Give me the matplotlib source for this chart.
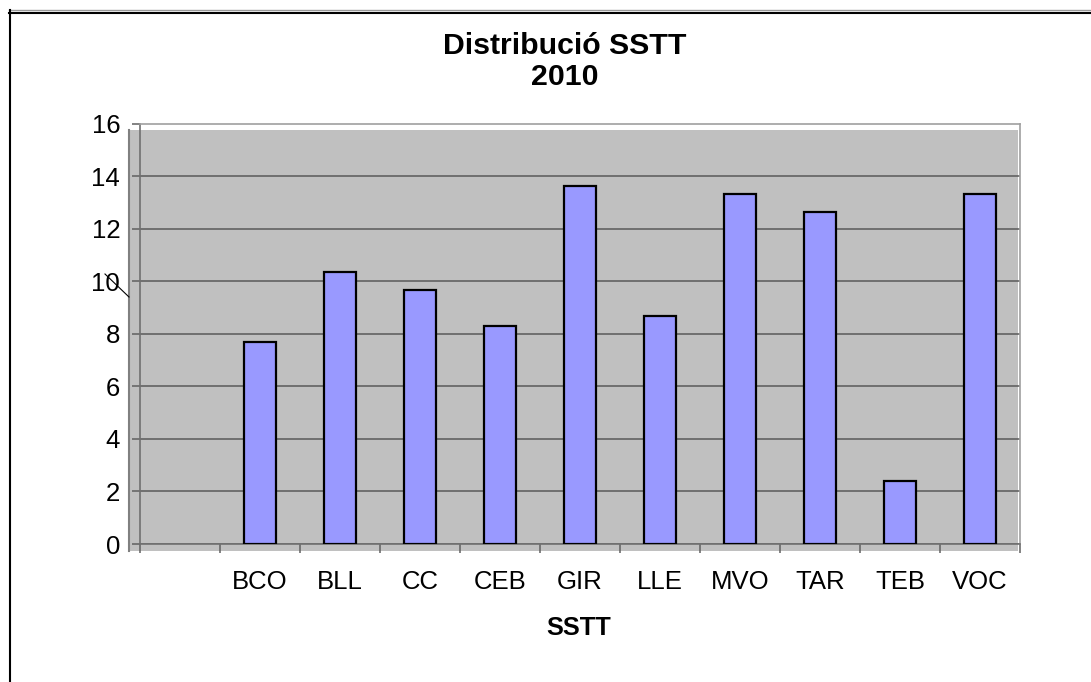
import matplotlib
matplotlib.use("Agg")
import matplotlib.pyplot as plt
import numpy as np
from matplotlib.patches import Rectangle
from matplotlib.lines import Line2D

# ---- data ----
categories = ["", "BCO", "BLL", "CC", "CEB", "GIR", "LLE", "MVO", "TAR", "TEB", "VOC"]
values = [np.nan, 7.70, 10.36, 9.67, 8.31, 13.62, 8.69, 13.32, 12.64, 2.38, 13.32]
y_ticks = [0, 2, 4, 6, 8, 10, 12, 14, 16]
title = "Distribució SSTT\n2010"
x_label = "SSTT"

W, H = 1091, 682
plt.rcParams['font.family'] = ['Liberation Sans', 'DejaVu Sans']

fig = plt.figure(figsize=(W / 100, H / 100), dpi=100)
fig.patch.set_facecolor("white")

def fx(x):
    return x / W

def fy(y):
    return 1 - y / H

# gray plot-area background (slightly offset, as in the reference)
fig.patches.append(Rectangle((fx(128), fy(551)), fx(1018) - fx(128), fy(130) - fy(551),
                             transform=fig.transFigure, facecolor="#C0C0C0",
                             edgecolor="none", zorder=-2))
fig.lines.append(Line2D([fx(129), fx(129)], [fy(130), fy(551)], transform=fig.transFigure,
                        color="#808080", lw=1.5, zorder=-1))

# figure frame lines
fig.lines.append(Line2D([fx(9), fx(1091)], [fy(10), fy(10)], transform=fig.transFigure,
                        color="#999999", lw=1.0))
fig.lines.append(Line2D([fx(9), fx(1091)], [fy(13), fy(13)], transform=fig.transFigure,
                        color="black", lw=1.5))
fig.lines.append(Line2D([fx(9.5), fx(9.5)], [fy(10), fy(682)], transform=fig.transFigure,
                        color="black", lw=1.5))
# small stray stroke near the "10" label
fig.lines.append(Line2D([fx(105), fx(129)], [fy(274), fy(297)], transform=fig.transFigure,
                        color="black", lw=0.8))

ax = fig.add_axes([fx(140), fy(544), fx(1020) - fx(140), fy(123.5) - fy(544)])
ax.set_facecolor("none")
ax.set_zorder(1)

x = np.arange(len(categories)) + 0.5
ax.bar(x, values, width=0.41, color="#9999FF", edgecolor="black", linewidth=1.6, zorder=3)

ax.set_xlim(0, len(categories))
ax.set_ylim(0, 16)
ax.set_yticks(y_ticks)
ax.set_yticklabels([str(t) for t in y_ticks], fontsize=18.5)
ax.yaxis.grid(True, color="#5A5A5A", linewidth=1.1)
ax.get_ygridlines()[-1].set_visible(False)
ax.set_axisbelow(True)

ax.set_xticks(np.arange(len(categories) + 1))
ax.set_xticklabels([])
ax.set_xticks(x, minor=True)
ax.set_xticklabels(categories, minor=True, fontsize=18.5)
ax.tick_params(axis="x", which="minor", length=0, pad=32.5)
for lab in ax.get_xticklabels(minor=True):
    lab.set_verticalalignment("baseline")
ax.tick_params(axis="x", which="major", length=6.5, width=1.1, color="#606060", direction="out")
ax.tick_params(axis="y", length=5.8, width=1.1, color="#606060", direction="out", pad=8.5)

for s in ["left", "bottom"]:
    ax.spines[s].set_color("#707070")
    ax.spines[s].set_linewidth(1.2)
for s in ["top", "right"]:
    ax.spines[s].set_color("#A0A0A0")
    ax.spines[s].set_linewidth(1.2)

fig.text(fx(565), fy(85), title, ha="center", va="baseline", fontsize=21.8,
         fontweight="bold", linespacing=1.15)
fig.text(fx(579), fy(635), x_label, ha="center", va="baseline", fontsize=18.3,
         fontweight="bold")

fig.savefig("out.png", dpi=100, facecolor="white")
